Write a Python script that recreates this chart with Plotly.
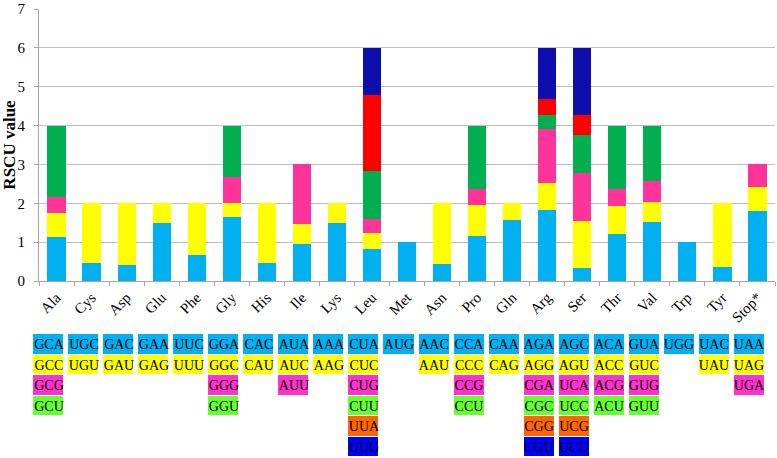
import plotly.graph_objects as go

amino_acids = ["Ala", "Cys", "Asp", "Glu", "Phe", "Gly", "His", "Ile", "Lys", "Leu", "Met",
               "Asn", "Pro", "Gln", "Arg", "Ser", "Thr", "Val", "Trp", "Tyr", "Stop*"]

# codons per amino acid (stacking order bottom -> top)
codons = {
    "Ala": ["GCA", "GCC", "GCG", "GCU"],
    "Cys": ["UGC", "UGU"],
    "Asp": ["GAC", "GAU"],
    "Glu": ["GAA", "GAG"],
    "Phe": ["UUC", "UUU"],
    "Gly": ["GGA", "GGC", "GGG", "GGU"],
    "His": ["CAC", "CAU"],
    "Ile": ["AUA", "AUC", "AUU"],
    "Lys": ["AAA", "AAG"],
    "Leu": ["CUA", "CUC", "CUG", "CUU", "UUA", "UUG"],
    "Met": ["AUG"],
    "Asn": ["AAC", "AAU"],
    "Pro": ["CCA", "CCC", "CCG", "CCU"],
    "Gln": ["CAA", "CAG"],
    "Arg": ["AGA", "AGG", "CGA", "CGC", "CGG", "CGU"],
    "Ser": ["AGC", "AGU", "UCA", "UCC", "UCG", "UCU"],
    "Thr": ["ACA", "ACC", "ACG", "ACU"],
    "Val": ["GUA", "GUC", "GUG", "GUU"],
    "Trp": ["UGG"],
    "Tyr": ["UAC", "UAU"],
    "Stop*": ["UAA", "UAG", "UGA"],
}

# RSCU values per amino acid (same order as codons)
rscu = {
    "Ala": [1.12, 0.62, 0.42, 1.84],
    "Cys": [0.46, 1.54],
    "Asp": [0.41, 1.59],
    "Glu": [1.49, 0.51],
    "Phe": [0.67, 1.33],
    "Gly": [1.65, 0.36, 0.67, 1.32],
    "His": [0.47, 1.53],
    "Ile": [0.94, 0.54, 1.52],
    "Lys": [1.50, 0.50],
    "Leu": [0.82, 0.42, 0.36, 1.23, 1.96, 1.21],
    "Met": [1.00],
    "Asn": [0.43, 1.57],
    "Pro": [1.15, 0.80, 0.42, 1.63],
    "Gln": [1.56, 0.44],
    "Arg": [1.84, 0.67, 1.39, 0.37, 0.42, 1.31],
    "Ser": [0.33, 1.22, 1.22, 0.99, 0.51, 1.73],
    "Thr": [1.20, 0.72, 0.46, 1.62],
    "Val": [1.53, 0.51, 0.54, 1.42],
    "Trp": [1.00],
    "Tyr": [0.36, 1.64],
    "Stop*": [1.80, 0.63, 0.57],
}

bar_colors = ["#00B0F0", "#FFFF00", "#FF3399", "#00B050", "#FF0000", "#0E0EAE"]
table_colors = ["#00B0F0", "#FFFF00", "#FF33CC", "#66FF33", "#FF6600", "#0000FF"]

SERIF = "Liberation Serif"
n_rows = 6
n_aa = len(amino_acids)

W, H = 777, 458
ML, MR = 30, 2
PW = W - ML - MR
AXIS_X = 39           # pixel x of value axis
STEP = (PW + ML - AXIS_X) / n_aa   # pixels per category
TABLE_FIRST = 48.5    # pixel centre of first codon column
PLOT_TOP, PLOT_BOTTOM = 9, 281
TABLE_TOP, TABLE_BOTTOM = 334, 457

fig = go.Figure()

# stacked bars: one trace per codon position
for k in range(n_rows):
    yv = [rscu[a][k] if k < len(rscu[a]) else None for a in amino_acids]
    names = [codons[a][k] if k < len(codons[a]) else "" for a in amino_acids]
    fig.add_trace(go.Bar(
        x=amino_acids, y=yv, customdata=names,
        marker=dict(color=bar_colors[k], line=dict(width=0)),
        hovertemplate="%{x} %{customdata}: %{y}<extra></extra>",
        xaxis="x", yaxis="y", showlegend=False,
    ))

# codon table as heatmap below
z = [[(k if k < len(codons[a]) else None) for a in amino_acids] for k in range(n_rows)]
txt = [[(codons[a][k] if k < len(codons[a]) else "") for a in amino_acids] for k in range(n_rows)]
cs = []
for k, c in enumerate(table_colors):
    cs.append([k / n_rows, c])
    cs.append([(k + 1) / n_rows, c])
fig.add_trace(go.Heatmap(
    x=list(range(n_aa)), y=list(range(n_rows)), z=z, text=txt,
    texttemplate="%{text}", textfont=dict(family=SERIF, size=14, color="black"),
    colorscale=cs, zmin=-0.5, zmax=n_rows - 0.5, showscale=False,
    xgap=5, ygap=1, hoverinfo="skip", xaxis="x2", yaxis="y2",
))

r0 = -(TABLE_FIRST - ML) / STEP

fig.update_layout(
    width=W, height=H,
    margin=dict(l=ML, r=MR, t=0, b=0, autoexpand=False),
    plot_bgcolor="white", paper_bgcolor="white",
    barmode="stack", bargap=0.48,
    font=dict(family=SERIF, color="black"),
    xaxis=dict(
        type="category", categoryorder="array", categoryarray=amino_acids,
        range=[-0.5, n_aa - 0.5], domain=[(AXIS_X - ML) / PW, 1], anchor="y",
        automargin=False,
        tickangle=-45, tickfont=dict(family=SERIF, size=15, color="black"),
        ticks="outside", tickson="boundaries", ticklen=4, tickcolor="#A6A6A6",
        ticklabelstandoff=1,
        showline=True, linecolor="#A6A6A6", linewidth=1, showgrid=False,
    ),
    yaxis=dict(
        range=[0, 7.001], tickvals=[0, 1, 2, 3, 4, 5, 6, 7],
        domain=[1 - PLOT_BOTTOM / H, 1 - PLOT_TOP / H], anchor="x",
        automargin=False,
        tickfont=dict(family=SERIF, size=15, color="black"), ticklabeloverflow="allow",
        ticks="outside", ticklen=4, tickcolor="#A6A6A6", ticklabelstandoff=6,
        showline=True, linecolor="#A6A6A6", linewidth=1,
        showgrid=True, gridcolor="#BFBFBF", gridwidth=1, zeroline=False,
        title=dict(text="<b>RSCU value</b>", font=dict(family=SERIF, size=17, color="black"),
                   standoff=4),
    ),
    xaxis2=dict(
        range=[r0, r0 + PW / STEP], domain=[0, 1], anchor="y2", automargin=False,
        visible=False, showgrid=False, zeroline=False,
    ),
    yaxis2=dict(
        range=[n_rows - 0.5, -0.5], domain=[1 - TABLE_BOTTOM / H, 1 - TABLE_TOP / H], anchor="x2",
        automargin=False, visible=False, showgrid=False, zeroline=False,
    ),
)

fig.write_html(
    "out.html",
    config={"displayModeBar": False},
    post_script="document.body.style.margin='0';document.body.style.overflow='hidden';",
)
